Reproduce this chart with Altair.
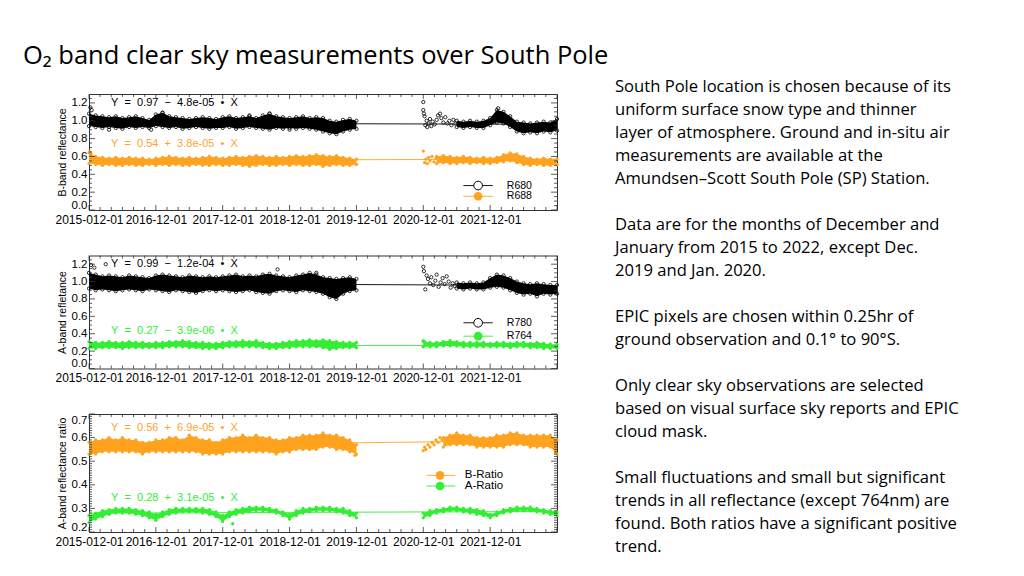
import json
import altair as alt
import pandas as pd

# ---------------- text ----------------
TITLE = "O₂ band clear sky measurements over South Pole"
PARAGRAPHS = [
    ["South Pole location is chosen because of its",
     "uniform surface snow type and thinner",
     "layer of atmosphere. Ground and in-situ air",
     "measurements are available at the",
     "Amundsen–Scott South Pole (SP) Station."],
    ["Data are for the months of December and",
     "January from 2015 to 2022, except Dec.",
     "2019 and Jan. 2020."],
    ["EPIC pixels are chosen within 0.25hr of",
     "ground observation and 0.1° to 90°S."],
    ["Only clear sky observations are selected",
     "based on visual surface sky reports and EPIC",
     "cloud mask."],
    ["Small fluctuations and small but significant",
     "trends in all reflectance (except 764nm) are",
     "found. Both ratios have a significant positive",
     "trend."],
]
X_LABELS = ["2015-012-01", "2016-12-01", "2017-12-01", "2018-12-01",
            "2019-12-01", "2020-12-01", "2021-12-01"]

# ---------------- data (x in years from 2015-12-01) ----------------
STEP = 0.1
# Panel 1: B-band
R680_A_HI = [1.08,1.06,1.05,1.04,1.05,1.03,1.04,1.05,1.03,1.01,
             1.07,1.09,1.05,1.04,1.03,1.02,1.03,1.04,1.03,1.02,
             1.04,1.05,1.03,1.04,1.05,1.03,1.06,1.08,1.05,1.04,
             1.03,1.04,1.05,1.03,1.04,1.03,1.00,0.99,1.01,1.02,1.00]
R680_A_LO = [0.94,0.93,0.92,0.93,0.92,0.91,0.93,0.92,0.93,0.92,
             0.94,0.93,0.92,0.93,0.91,0.92,0.93,0.92,0.91,0.92,
             0.92,0.93,0.91,0.92,0.93,0.92,0.91,0.90,0.92,0.91,
             0.92,0.91,0.92,0.91,0.90,0.88,0.86,0.85,0.88,0.90,0.91]
R680_B_START = 5.5
R680_B_HI = [1.00,0.99,1.00,0.99,1.00,1.03,1.12,1.10,1.05,0.99,0.98,0.97,0.98,0.99,0.98,1.02]
R680_B_LO = [0.93,0.92,0.93,0.92,0.92,0.95,0.98,0.97,0.93,0.88,0.86,0.87,0.86,0.88,0.87,0.89]
R680_PTS_X = [0.02,0.04,0.3,0.93,1.1,2.4,2.7,3.0,
              5.0,5.0,5.01,5.02,5.03,5.05,5.06,5.08,5.1,5.12,5.14,5.17,5.2,5.22,5.25,5.27,
              5.3,5.33,5.36,5.39,5.42,5.45,5.48,6.12]
R680_PTS_Y = [1.15,1.12,0.90,0.90,1.09,1.06,1.08,0.90,
              1.21,1.12,1.08,1.05,0.95,1.0,0.93,0.97,1.02,0.94,0.99,0.96,1.01,1.06,1.08,1.03,
              0.98,1.04,0.97,1.0,0.95,1.01,0.97,1.14]
R688_A_HI = [0.64,0.60,0.59,0.58,0.59,0.58,0.59,0.58,0.58,0.57,
             0.58,0.59,0.60,0.59,0.58,0.59,0.58,0.59,0.60,0.59,
             0.58,0.59,0.60,0.59,0.60,0.61,0.60,0.59,0.60,0.59,
             0.60,0.61,0.60,0.61,0.62,0.61,0.60,0.61,0.59,0.58,0.57]
R688_A_LO = [0.52,0.51,0.50,0.51,0.50,0.50,0.51,0.50,0.50,0.51,
             0.50,0.51,0.50,0.51,0.50,0.50,0.51,0.50,0.50,0.51,
             0.50,0.50,0.51,0.50,0.49,0.50,0.51,0.50,0.50,0.51,
             0.50,0.51,0.50,0.50,0.51,0.49,0.50,0.51,0.50,0.50,0.51]
R688_B_START = 5.2
R688_B_HI = [0.60,0.61,0.60,0.59,0.60,0.59,0.58,0.59,0.58,0.59,0.62,0.64,0.63,0.60,0.58,0.57,0.58,0.57,0.57]
R688_B_LO = [0.52,0.53,0.52,0.52,0.53,0.52,0.53,0.52,0.52,0.53,0.54,0.55,0.53,0.51,0.50,0.51,0.50,0.50,0.51]
R688_PTS_X = [0.01,0.03,5.0,5.02,5.04,5.06,5.08,5.1,5.13,5.16,5.19]
R688_PTS_Y = [0.65,0.63,0.66,0.53,0.57,0.52,0.59,0.55,0.60,0.54,0.58]

# Panel 2: A-band
R780_A_HI = [1.10,1.08,1.06,1.07,1.06,1.05,1.07,1.06,1.05,1.04,
             1.07,1.08,1.07,1.06,1.05,1.07,1.06,1.05,1.06,1.05,
             1.06,1.07,1.08,1.06,1.07,1.06,1.08,1.09,1.07,1.06,
             1.05,1.07,1.08,1.10,1.08,1.05,1.04,1.03,1.04,1.05,1.03]
R780_A_LO = [0.92,0.90,0.91,0.90,0.89,0.90,0.91,0.90,0.89,0.91,
             0.90,0.89,0.88,0.90,0.89,0.88,0.87,0.89,0.90,0.89,
             0.90,0.89,0.88,0.89,0.90,0.88,0.87,0.86,0.89,0.90,
             0.89,0.88,0.90,0.89,0.88,0.86,0.82,0.80,0.86,0.89,0.90]
R780_B_START = 5.5
R780_B_HI = [0.99,0.98,0.99,0.98,0.99,1.04,1.08,1.07,1.04,1.00,0.98,0.97,0.98,0.97,0.96,0.96]
R780_B_LO = [0.92,0.91,0.92,0.91,0.91,0.93,0.94,0.93,0.90,0.87,0.85,0.86,0.83,0.86,0.85,0.86]
R780_PTS_X = [0.03,0.08,0.25,2.82,3.4,
              5.0,5.01,5.03,5.05,5.07,5.1,5.12,5.15,5.18,5.2,5.23,5.26,5.29,5.32,5.35,5.38,5.41,5.44,5.47]
R780_PTS_Y = [1.19,1.16,1.2,1.14,1.1,
              1.17,1.12,0.91,1.07,1.03,0.98,1.05,0.96,1.01,1.08,0.94,0.99,1.04,0.97,1.06,1.0,0.93,0.98,0.95]
R764_A_HI = [0.31,0.30,0.30,0.31,0.30,0.30,0.31,0.30,0.30,0.29,
             0.30,0.30,0.31,0.31,0.32,0.31,0.30,0.30,0.29,0.29,
             0.30,0.31,0.31,0.32,0.31,0.32,0.30,0.29,0.29,0.30,
             0.31,0.32,0.32,0.33,0.32,0.33,0.32,0.31,0.30,0.30,0.30]
R764_A_LO = [0.23,0.23,0.24,0.24,0.24,0.23,0.24,0.24,0.24,0.24,
             0.24,0.24,0.25,0.25,0.25,0.24,0.24,0.23,0.23,0.23,
             0.24,0.25,0.25,0.25,0.25,0.25,0.24,0.23,0.23,0.24,
             0.24,0.25,0.25,0.25,0.25,0.24,0.22,0.23,0.24,0.24,0.24]
R764_B_START = 5.0
R764_B_HI = [0.31,0.30,0.30,0.31,0.32,0.31,0.30,0.30,0.30,0.30,0.29,0.30,0.30,0.29,0.30,0.30,0.29,0.30,0.29,0.28,0.28]
R764_B_LO = [0.25,0.25,0.25,0.26,0.26,0.26,0.25,0.25,0.25,0.25,0.25,0.25,0.25,0.24,0.25,0.25,0.24,0.24,0.23,0.23,0.23]
R764_PTS_X = [5.0,5.02]
R764_PTS_Y = [0.32,0.31]

# Panel 3: ratios
BRAT_A_HI = [0.58,0.59,0.59,0.60,0.59,0.60,0.59,0.59,0.58,0.58,
             0.59,0.59,0.60,0.60,0.59,0.61,0.60,0.59,0.59,0.58,
             0.59,0.60,0.60,0.61,0.60,0.61,0.60,0.60,0.59,0.59,
             0.60,0.60,0.61,0.61,0.61,0.62,0.61,0.61,0.60,0.59,0.57]
BRAT_A_LO = [0.53,0.53,0.54,0.54,0.54,0.54,0.54,0.54,0.53,0.54,
             0.54,0.54,0.54,0.54,0.54,0.54,0.54,0.53,0.53,0.53,
             0.53,0.54,0.54,0.54,0.54,0.54,0.54,0.54,0.53,0.54,
             0.54,0.55,0.55,0.55,0.55,0.56,0.56,0.55,0.55,0.54,0.53]
BRAT_B_START = 5.3
BRAT_B_HI = [0.60,0.61,0.62,0.61,0.61,0.60,0.60,0.60,0.61,0.61,0.62,0.62,0.61,0.61,0.61,0.61,0.61,0.59]
BRAT_B_LO = [0.56,0.57,0.57,0.57,0.57,0.56,0.56,0.56,0.56,0.56,0.57,0.57,0.57,0.56,0.56,0.56,0.56,0.53]
BRAT_PTS_X = [5.0,5.02,5.04,5.07,5.1,5.13,5.16,5.19,5.22,5.25,5.28,3.98,6.98]
BRAT_PTS_Y = [0.545,0.56,0.55,0.57,0.56,0.58,0.57,0.59,0.58,0.60,0.59,0.525,0.535]
ARAT_A_HI = [0.27,0.28,0.29,0.295,0.30,0.30,0.30,0.295,0.29,0.285,
             0.275,0.285,0.295,0.30,0.30,0.30,0.30,0.30,0.295,0.285,
             0.27,0.285,0.295,0.30,0.305,0.305,0.305,0.30,0.295,0.285,
             0.275,0.29,0.30,0.30,0.305,0.305,0.305,0.30,0.30,0.29,0.28]
ARAT_A_LO = [0.24,0.255,0.265,0.275,0.28,0.28,0.28,0.275,0.27,0.26,
             0.25,0.265,0.275,0.28,0.285,0.285,0.285,0.28,0.275,0.265,
             0.245,0.265,0.275,0.28,0.285,0.29,0.29,0.285,0.28,0.27,
             0.255,0.27,0.28,0.285,0.29,0.29,0.29,0.285,0.28,0.27,0.26]
ARAT_B_START = 5.0
ARAT_B_HI = [0.28,0.29,0.295,0.30,0.305,0.305,0.30,0.30,0.295,0.29,
             0.275,0.285,0.295,0.30,0.305,0.305,0.305,0.30,0.295,0.29,0.285]
ARAT_B_LO = [0.26,0.27,0.28,0.285,0.29,0.29,0.285,0.28,0.275,0.27,
             0.26,0.27,0.28,0.285,0.29,0.29,0.29,0.285,0.28,0.275,0.27]
ARAT_PTS_X = [2.15]
ARAT_PTS_Y = [0.235]

# linear fits (value at x=0 and x=7)
FIT_X = [0, 7]
FIT_R680 = [0.975, 0.96]
FIT_R688 = [0.555, 0.57]
FIT_R780 = [0.98, 0.955]
FIT_R764 = [0.266, 0.264]
FIT_BRAT = [0.565, 0.588]
FIT_ARAT = [0.28, 0.287]

SP = "\u00a0"  # non-breaking space keeps the wide IDL spacing


def eq(a, sign, b):
    return SP.join(["Y", "", "=", "", a, "", sign, "", b, "", "•", "", "X"])


EQ_P1 = [eq("0.97", "−", "4.8e-05"), eq("0.54", "+", "3.8e-05")]
EQ_P1_Y = [1.2, 0.744]
EQ_P2 = [eq("0.99", "−", "1.2e-04"), eq("0.27", "−", "3.9e-06")]
EQ_P2_Y = [1.2, 0.43]
EQ_P3 = [eq("0.56", "+", "6.9e-05"), eq("0.28", "+", "3.1e-05")]
EQ_P3_Y = [0.64, 0.346]

LEG_P1 = ["R680", "R688"]
LEG_P1_Y = [0.274, 0.154]
LEG_P2 = ["R780", "R764"]
LEG_P2_Y = [0.526, 0.372]
LEG_P3 = ["B-Ratio", "A-Ratio"]
LEG_P3_Y = [0.44, 0.395]

# ---------------- style ----------------
FONT = "Liberation Sans"
TFONT = "Open Sans"
ORANGE = "#FFA31F"
GREEN = "#33EE33"
BLACK = "#000000"
FRAME = "#333333"
W = 468
LABEL_EXPR = json.dumps(X_LABELS) + "[datum.value]"
ONE = pd.DataFrame({"k": [0]})


def band_df(a_hi, a_lo, b_start, b_hi, b_lo):
    rows = []
    for i, (h, l) in enumerate(zip(a_hi, a_lo)):
        rows.append({"seg": "a", "x": round(i * STEP, 3), "lo": l, "hi": h})
    for i, (h, l) in enumerate(zip(b_hi, b_lo)):
        rows.append({"seg": "b", "x": round(b_start + i * STEP, 3), "lo": l, "hi": h})
    return pd.DataFrame(rows)


def make_panel(height, ydom, ymajor, yminor, ytitle, series, fits, eqs, eq_y,
               legend, leg_y, leg_x, leg_size, extra=None):
    xs = alt.Scale(domain=[0, 7], nice=False, zero=False)
    ys = alt.Scale(domain=ydom, nice=False, zero=False)
    xaxis = alt.Axis(values=list(range(7)), labelExpr=LABEL_EXPR, ticks=False, domain=False,
                     grid=False, labelFont=FONT, labelFontSize=12, labelColor="black",
                     labelPadding=4, labelFlush=False, labelOverlap=False, title=None)
    yaxis = alt.Axis(values=ymajor, format=".1f", ticks=False, domain=False, grid=False,
                     labelFont=FONT, labelFontSize=11.5, labelColor="black", labelPadding=2,
                     labelFlush=True, labelOverlap=False, title=ytitle, titleFont=FONT,
                     titleFontSize=10.5, titleFontWeight="normal", titleColor="black",
                     titlePadding=4)

    def X(f):
        return alt.X(f, type="quantitative", scale=xs, axis=xaxis)

    def Y(f):
        return alt.Y(f, type="quantitative", scale=ys, axis=yaxis)

    layers = []
    # fit lines
    for vals, col in fits:
        df = pd.DataFrame({"x": FIT_X, "y": vals})
        layers.append(alt.Chart(df).mark_line(color=col, strokeWidth=0.9).encode(x=X("x"), y=Y("y")))
    # bands + points
    for (band, px, py, col, filled) in series:
        layers.append(alt.Chart(band).mark_area(color=col, opacity=1).encode(
            x=X("x"), y=Y("lo"), y2="hi", detail="seg:N"))
        edge = band.melt(id_vars=["seg", "x"], value_vars=["lo", "hi"], value_name="v")
        pts = pd.concat([edge[["x", "v"]], pd.DataFrame({"x": px, "v": py})], ignore_index=True)
        if filled:
            m = alt.Chart(pts).mark_circle(color=col, size=11, opacity=1)
        else:
            m = alt.Chart(pts).mark_point(color=col, size=11, strokeWidth=0.8, opacity=1, filled=False)
        layers.append(m.encode(x=X("x"), y=Y("v")))
    # equations
    eq_cols = [c for (_, _, _, c, _) in series]
    eq_df = pd.DataFrame({"t": eqs, "y": eq_y, "c": eq_cols, "x": [0.33, 0.33]})
    layers.append(alt.Chart(eq_df).mark_text(align="left", baseline="middle", font=FONT,
                                             fontSize=11).encode(
        x=X("x"), y=Y("y"), text="t:N", color=alt.Color("c:N", scale=None)))
    # legend
    lx1, lx2, lxm, ltx = leg_x
    fills = [f for (_, _, _, _, f) in series]
    leg_df = pd.DataFrame({"t": legend, "y": leg_y, "c": eq_cols, "f": fills,
                           "x1": [lx1, lx1], "x2": [lx2, lx2], "xm": [lxm, lxm], "xt": [ltx, ltx]})
    layers.append(alt.Chart(leg_df).mark_rule(strokeWidth=0.9).encode(
        x=X("x1"), x2="x2", y=Y("y"), color=alt.Color("c:N", scale=None)))
    open_df = leg_df[~leg_df["f"]]
    fill_df = leg_df[leg_df["f"]]
    if len(open_df):
        layers.append(alt.Chart(open_df).mark_point(filled=False, size=75, strokeWidth=1, opacity=1,
                                                    fill="white").encode(
            x=X("xm"), y=Y("y"), color=alt.Color("c:N", scale=None)))
    if len(fill_df):
        layers.append(alt.Chart(fill_df).mark_circle(size=75, opacity=1).encode(
            x=X("xm"), y=Y("y"), color=alt.Color("c:N", scale=None)))
    layers.append(alt.Chart(leg_df).mark_text(align="left", baseline="middle", font=FONT,
                                              fontSize=leg_size, color="black").encode(
        x=X("xt"), y=Y("y"), text="t:N"))
    # inward ticks
    xmaj = list(range(8))
    xmin = [i / 6 for i in range(43) if i % 6]
    for vals, L in ((ymajor, 6), (yminor, 3)):
        df = pd.DataFrame({"v": vals})
        layers.append(alt.Chart(df).mark_rule(color=FRAME, strokeWidth=0.8).encode(
            y=Y("v"), x=alt.value(0), x2=alt.value(L)))
        layers.append(alt.Chart(df).mark_rule(color=FRAME, strokeWidth=0.8).encode(
            y=Y("v"), x=alt.value(W), x2=alt.value(W - L)))
    for vals, L in ((xmaj, 5), (xmin, 3)):
        df = pd.DataFrame({"v": vals})
        layers.append(alt.Chart(df).mark_rule(color=FRAME, strokeWidth=0.8).encode(
            x=X("v"), y=alt.value(height), y2=alt.value(height - L)))
        layers.append(alt.Chart(df).mark_rule(color=FRAME, strokeWidth=0.8).encode(
            x=X("v"), y=alt.value(0), y2=alt.value(L)))
    if extra:
        layers.extend(extra)
    return alt.layer(*layers).properties(width=W, height=height)


def minor(lo, hi, step, majors):
    n = int(round((hi - lo) / step))
    out = []
    for i in range(1, n):
        v = round(lo + i * step, 4)
        if all(abs(v - m) > 1e-6 for m in majors):
            out.append(v)
    return out


maj12 = [0.0, 0.2, 0.4, 0.6, 0.8, 1.0, 1.2]
maj3 = [0.2, 0.3, 0.4, 0.5, 0.6, 0.7]

title_layer = alt.Chart(ONE).mark_text(text=TITLE, align="left", baseline="alphabetic", font=TFONT,
                                       fontSize=25.5, color="black").encode(
    x=alt.value(-66), y=alt.value(-29.7))

LINE_H = 23
text_layers = []
row = 0
for para in PARAGRAPHS:
    text_layers.append(
        alt.Chart(ONE).mark_text(text=para, align="left", baseline="alphabetic", font=TFONT,
                                 fontSize=16.6, lineHeight=LINE_H, color="black").encode(
            x=alt.value(526), y=alt.value(-2.3 + LINE_H * row)))
    row += len(para) + 1

p1 = make_panel(
    116, [0, 1.3], maj12, minor(0, 1.3, 0.05, maj12), "B-band reflectance",
    [(band_df(R680_A_HI, R680_A_LO, R680_B_START, R680_B_HI, R680_B_LO), R680_PTS_X, R680_PTS_Y, BLACK, False),
     (band_df(R688_A_HI, R688_A_LO, R688_B_START, R688_B_HI, R688_B_LO), R688_PTS_X, R688_PTS_Y, ORANGE, True)],
    [(FIT_R680, BLACK), (FIT_R688, ORANGE)], EQ_P1, EQ_P1_Y, LEG_P1, LEG_P1_Y,
    (5.6, 6.04, 5.82, 6.25), 10.5, extra=[title_layer] + text_layers)

p2 = make_panel(
    113, [0, 1.3], maj12, minor(0, 1.3, 0.05, maj12), "A-band refletance",
    [(band_df(R780_A_HI, R780_A_LO, R780_B_START, R780_B_HI, R780_B_LO), R780_PTS_X, R780_PTS_Y, BLACK, False),
     (band_df(R764_A_HI, R764_A_LO, R764_B_START, R764_B_HI, R764_B_LO), R764_PTS_X, R764_PTS_Y, GREEN, True)],
    [(FIT_R780, BLACK), (FIT_R764, GREEN)], EQ_P2, EQ_P2_Y, LEG_P2, LEG_P2_Y,
    (5.6, 6.04, 5.82, 6.25), 10.5)

p3 = make_panel(
    118, [0.2, 0.7], maj3, minor(0.2, 0.7, 0.01, maj3), "A-band reflectance ratio",
    [(band_df(BRAT_A_HI, BRAT_A_LO, BRAT_B_START, BRAT_B_HI, BRAT_B_LO), BRAT_PTS_X, BRAT_PTS_Y, ORANGE, True),
     (band_df(ARAT_A_HI, ARAT_A_LO, ARAT_B_START, ARAT_B_HI, ARAT_B_LO), ARAT_PTS_X, ARAT_PTS_Y, GREEN, True)],
    [(FIT_BRAT, ORANGE), (FIT_ARAT, GREEN)], EQ_P3, EQ_P3_Y, LEG_P3, LEG_P3_Y,
    (5.05, 5.48, 5.25, 5.62), 11.5)

chart = alt.vconcat(p1, p2, p3, spacing=45.5, bounds="flush").properties(
    padding={"left": 14, "top": 35, "right": 5, "bottom": 5},
    background="white",
).configure_view(stroke=FRAME, strokeWidth=1)

chart.save("out.html", embed_options={"renderer": "svg", "actions": False})
